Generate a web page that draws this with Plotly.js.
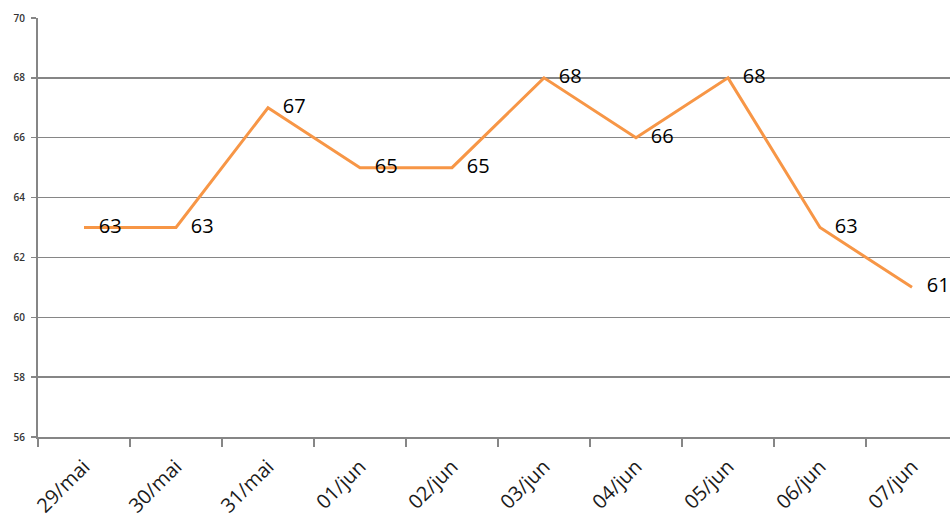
<!DOCTYPE html>
<html>
<head>
<meta charset="utf-8">
<script src="https://cdn.plot.ly/plotly-3.0.1.min.js"></script>
<style>html,body{margin:0;padding:0;background:#fff;}#chart{width:950px;height:523px;}</style>
</head>
<body>
<div id="chart"></div>
<script>
const categories = ["29/mai","30/mai","31/mai","01/jun","02/jun","03/jun","04/jun","05/jun","06/jun","07/jun"];
const values = [63, 63, 67, 65, 65, 68, 66, 68, 63, 61];
const yTicks = [56, 58, 60, 62, 64, 66, 68, 70];

const trace = {
  x: categories,
  y: values,
  type: "scatter",
  mode: "lines+markers+text",
  text: values.map(String),
  textposition: "middle right",
  textfont: {family: "Open Sans, Noto Sans, sans-serif", size: 20, color: "#000"},
  line: {color: "#F79646", width: 3},
  marker: {size: 22, color: "rgba(0,0,0,0)"},
  cliponaxis: false,
  hoverinfo: "none"
};

const layout = {
  width: 950,
  height: 523,
  margin: {l: 38, r: 0, t: 18, b: 86},
  paper_bgcolor: "#fff",
  plot_bgcolor: "#fff",
  showlegend: false,
  xaxis: {
    type: "category",
    range: [-0.5, 9.413],
    tickson: "boundaries",
    ticks: "outside",
    ticklen: 8,
    tickcolor: "#868686",
    tickwidth: 1.5,
    showline: true,
    linecolor: "#868686",
    linewidth: 2,
    showgrid: false,
    tickangle: -45,
    ticklabelstandoff: 8,
    tickfont: {family: "Open Sans, Noto Sans, sans-serif", size: 20, color: "#1a1a1a"},
    fixedrange: true
  },
  yaxis: {
    range: [56, 70],
    tickvals: yTicks,
    ticktext: yTicks.map(String),
    ticks: "outside",
    ticklen: 5,
    tickcolor: "#868686",
    tickwidth: 1.5,
    showline: true,
    linecolor: "#868686",
    linewidth: 2,
    showgrid: true,
    gridcolor: "#868686",
    gridwidth: 1.3,
    zeroline: false,
    ticklabelstandoff: 4,
    tickfont: {family: "Open Sans, Noto Sans, sans-serif", size: 10, color: "#333", weight: 600},
    fixedrange: true
  }
};

Plotly.newPlot("chart", [trace], layout, {displayModeBar: false, staticPlot: true});
</script>
</body>
</html>
